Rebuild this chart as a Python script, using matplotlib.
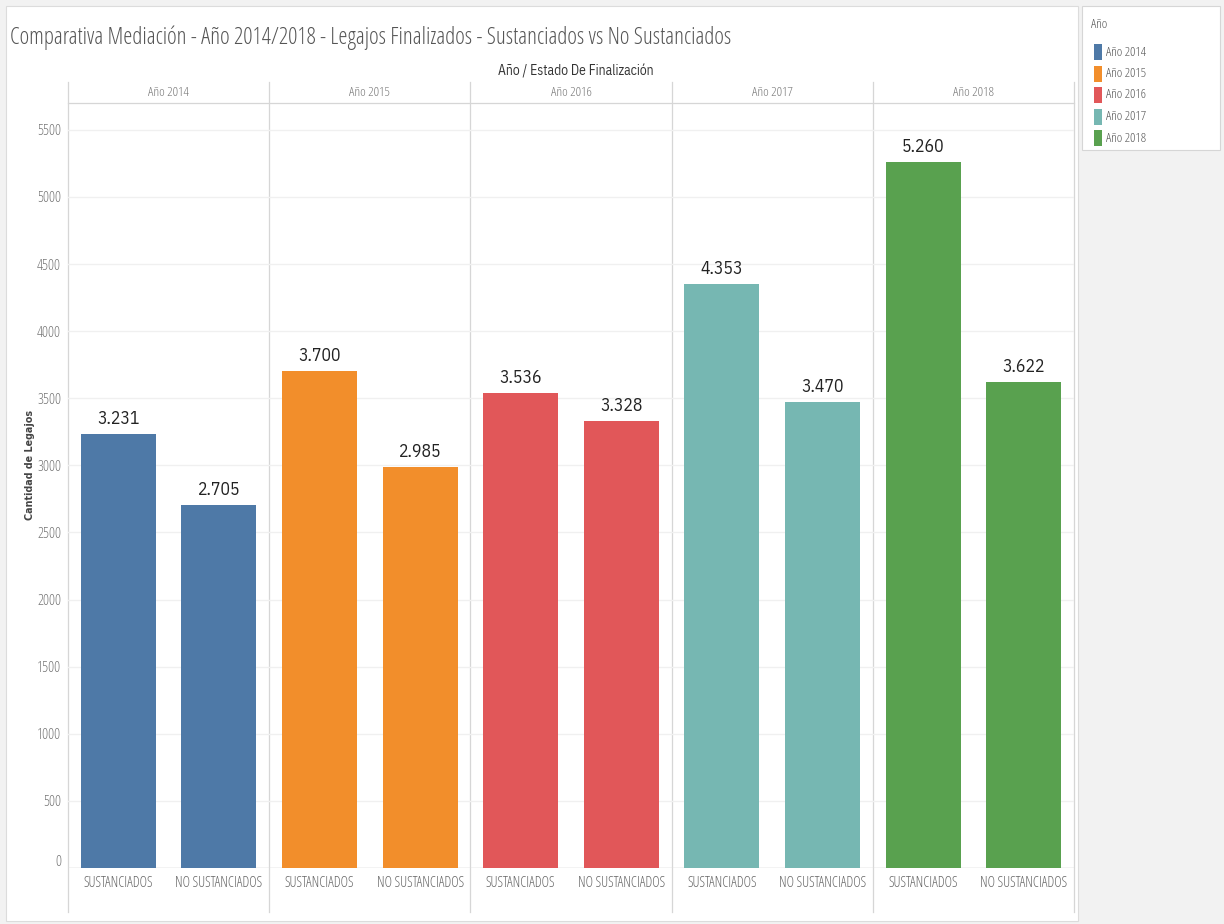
import matplotlib
matplotlib.use("Agg")
import matplotlib.pyplot as plt
from matplotlib.patches import Rectangle
from matplotlib.lines import Line2D
from matplotlib.transforms import blended_transform_factory, ScaledTranslation

plt.rcParams['font.family'] = ['Open Sans', 'DejaVu Sans']
plt.rcParams['font.stretch'] = 'condensed'
plt.rcParams['font.weight'] = 300

years = ["Año 2014", "Año 2015", "Año 2016", "Año 2017", "Año 2018"]
estados = ["SUSTANCIADOS", "NO SUSTANCIADOS"]
sustanciados = [3231, 3700, 3536, 4353, 5260]
no_sustanciados = [2705, 2985, 3328, 3470, 3622]
colors = ["#4e79a7", "#f28e2b", "#e15759", "#76b7b2", "#59a14f"]
yticks = list(range(0, 5501, 500))

PLEX = ['IBM Plex Sans Condensed', 'DejaVu Sans']

W, H = 1224, 924
fig = plt.figure(figsize=(W / 100, H / 100), dpi=100)
fig.patch.set_facecolor("#f2f2f2")

def fx(x):
    return x / W

def fy(y):
    return 1 - y / H

# white panels
fig.patches.append(Rectangle((fx(6), fy(921)), fx(1078) - fx(6), fy(6) - fy(921),
                             transform=fig.transFigure, facecolor="white",
                             edgecolor="#dcdcdc", lw=0.8, zorder=-5))
fig.patches.append(Rectangle((fx(1082), fy(150)), fx(1220) - fx(1082), fy(6) - fy(150),
                             transform=fig.transFigure, facecolor="white",
                             edgecolor="#d6d6d6", lw=0.8, zorder=-5))

ax = fig.add_axes([fx(68), fy(868), fx(1074) - fx(68), fy(103) - fy(868)])
ax.set_facecolor("none")
ax.set_zorder(2)

xs, hs, cs, labels = [], [], [], []
for i, yr in enumerate(years):
    for j, val in enumerate([sustanciados[i], no_sustanciados[i]]):
        xs.append(i * 2 + j)
        hs.append(val)
        cs.append(colors[i])
        labels.append(estados[j])

bars = ax.bar(xs, hs, width=0.745, color=cs, zorder=3)
for x, h in zip(xs, hs):
    ax.text(x, h + 45, f"{h:,}".replace(",", "."), ha="center", va="bottom",
            fontsize=12.8, color="#222222", zorder=4, family=PLEX,
            fontweight="normal", fontstretch="condensed")

ax.set_xlim(-0.5, 9.5)
ax.set_ylim(0, 5700)
ax.set_yticks(yticks)
ax.set_yticklabels([str(t) for t in yticks])
ax.set_xticks(xs)
ax.set_xticklabels(labels)
ax.tick_params(axis="x", length=0, pad=6, labelsize=10.3, labelcolor="#666666")
ax.tick_params(axis="y", length=0, pad=5, labelsize=10.8, labelcolor="#777777")
ax.yaxis.grid(True, color="#f0f0f0", lw=1, zorder=0)
for s in ax.spines.values():
    s.set_visible(False)
ax.axhline(0, color="#d0d0d0", lw=1, zorder=2)

# lift the "0" label a little, as in the reference
zero_lbl = ax.get_yticklabels()[0]
zero_lbl.set_transform(zero_lbl.get_transform() + ScaledTranslation(0, 8 / 100, fig.dpi_scale_trans))

# panel separators and header
bt = blended_transform_factory(ax.transData, fig.transFigure)
for k in range(6):
    xsep = -0.5 + 2 * k
    fig.add_artist(Line2D([xsep, xsep], [fy(82), fy(912)], transform=bt,
                          color="#d6d6d6", lw=0.9, zorder=1))
fig.add_artist(Line2D([-0.5, 9.5], [fy(103), fy(103)], transform=bt,
                      color="#d6d6d6", lw=0.9, zorder=1))
for i, yr in enumerate(years):
    fig.text(i * 2 + 0.5, fy(92), yr, transform=bt, ha="center", va="center",
             fontsize=9.7, color="#777777")

fig.text(fx(576), fy(71), "Año / Estado De Finalización", ha="center", va="center",
         fontsize=9.8, color="#333333", family=PLEX, fontweight="normal")

fig.text(fx(10), fy(38), "Comparativa Mediación - Año 2014/2018 - Legajos Finalizados - Sustanciados vs No Sustanciados",
         ha="left", va="center", fontsize=16.6, color="#555555")

fig.text(fx(30), fy(465), "Cantidad de Legajos", rotation=90, ha="center", va="center",
         fontsize=6.9, color="#444444", fontweight="bold", family=['DejaVu Sans'],
         fontstretch="normal")

# legend
fig.text(fx(1091), fy(25), "Año", ha="left", va="center", fontsize=9.5, color="#555555")
for i, yr in enumerate(years):
    yc = 52 + i * 21.5
    fig.patches.append(Rectangle((fx(1094), fy(yc + 8)), fx(7.5), fy(0) - fy(16),
                                 transform=fig.transFigure, facecolor=colors[i],
                                 edgecolor="none"))
    fig.text(fx(1106), fy(yc), yr, ha="left", va="center", fontsize=9.5, color="#555555")

fig.savefig("out.png", dpi=100, facecolor=fig.get_facecolor())
